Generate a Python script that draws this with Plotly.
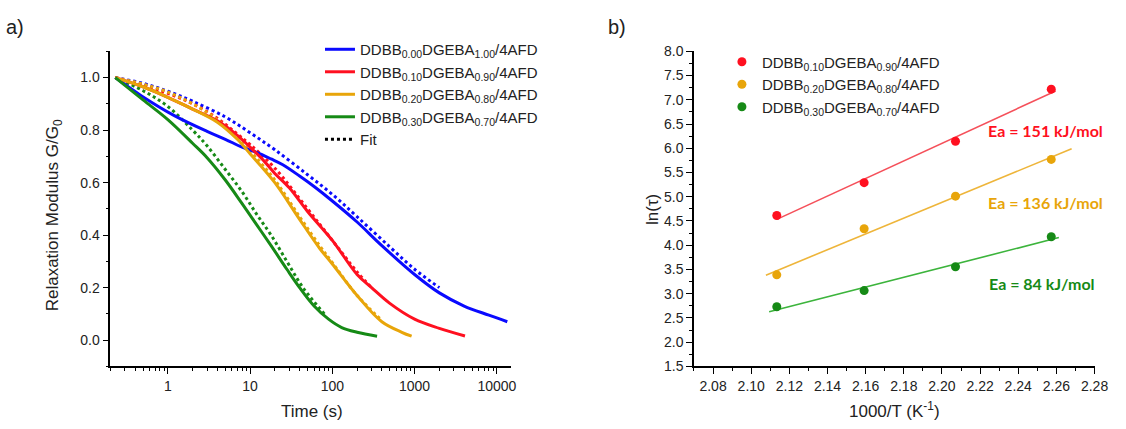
import numpy as np
import plotly.graph_objects as go

W, H = 1126, 429

# ---------------- Panel a) data: relaxation modulus ----------------
blue_t = [0.23, 0.48, 1.2, 3.0, 5, 8, 12, 18, 25, 40, 60, 100, 200, 400, 1000, 2000, 4000, 8000, 13400]
blue_g = [1.0, 0.93, 0.855, 0.795, 0.765, 0.735, 0.715, 0.69, 0.668, 0.625, 0.585, 0.53, 0.45, 0.36, 0.25, 0.18, 0.13, 0.095, 0.07]
blue_fit_t = [0.23, 0.5, 1, 2, 5, 10, 20, 50, 100, 200, 500, 1000, 2000]
blue_fit_g = [1.0, 0.978, 0.948, 0.91, 0.85, 0.79, 0.725, 0.63, 0.555, 0.47, 0.355, 0.27, 0.2]

red_t = [0.23, 0.5, 1, 2, 4, 7, 10, 15, 20, 30, 50, 100, 200, 300, 500, 1000, 2000, 4100]
red_g = [1.0, 0.965, 0.925, 0.88, 0.835, 0.78, 0.735, 0.68, 0.635, 0.58, 0.49, 0.38, 0.25, 0.2, 0.14, 0.08, 0.045, 0.016]
red_fit_t = [0.23, 0.5, 1, 2, 4, 7, 10, 20, 50, 100, 200, 300]
red_fit_g = [1.0, 0.97, 0.94, 0.9, 0.845, 0.785, 0.745, 0.655, 0.5, 0.38, 0.26, 0.2]

orange_t = [0.23, 0.5, 1, 2, 4, 7, 10, 20, 40, 70, 100, 200, 400, 700, 920]
orange_g = [1.0, 0.965, 0.925, 0.88, 0.83, 0.765, 0.71, 0.6, 0.46, 0.35, 0.29, 0.17, 0.07, 0.03, 0.015]
orange_fit_t = [0.23, 0.5, 1, 2, 4, 7, 10, 20, 40, 70, 100, 200, 400]
orange_fit_g = [1.0, 0.975, 0.945, 0.9, 0.84, 0.77, 0.72, 0.61, 0.47, 0.36, 0.295, 0.17, 0.075]

green_t = [0.23, 0.5, 1, 2, 3, 5, 8, 12, 18, 28, 40, 60, 90, 130, 200, 350]
green_g = [1.0, 0.915, 0.84, 0.75, 0.695, 0.61, 0.52, 0.44, 0.36, 0.27, 0.2, 0.13, 0.08, 0.048, 0.03, 0.015]
green_fit_t = [0.23, 0.5, 1, 2, 3, 5, 8, 12, 18, 28, 44, 80]
green_fit_g = [1.0, 0.95, 0.89, 0.8, 0.74, 0.65, 0.565, 0.48, 0.4, 0.3, 0.2, 0.1]

labels_a = ["DDBB<sub>0.00</sub>DGEBA<sub>1.00</sub>/4AFD",
            "DDBB<sub>0.10</sub>DGEBA<sub>0.90</sub>/4AFD",
            "DDBB<sub>0.20</sub>DGEBA<sub>0.80</sub>/4AFD",
            "DDBB<sub>0.30</sub>DGEBA<sub>0.70</sub>/4AFD"]
x_tickvals_a = [1, 10, 100, 1000, 10000]
x_ticktext_a = ["1", "10", "100", "1000", "10000"]

# ---------------- Panel b) data: Arrhenius ----------------
inv_T = [2.1134, 2.1592, 2.2071, 2.2573]
ln_tau_010 = [4.613, 5.29, 6.144, 7.22]
ln_tau_020 = [3.389, 4.34, 5.012, 5.77]
ln_tau_030 = [2.73, 3.064, 3.556, 4.174]
fit_span_010 = [2.1134, 2.2596]
fit_span_020 = [2.1077, 2.268]
fit_span_030 = [2.1094, 2.2613]
labels_b = labels_a[1:]
ea_labels = ["Ea = 151 kJ/mol", "Ea = 136 kJ/mol", "Ea = 84 kJ/mol"]

BLUE = "#0a0aff"
RED = "#ff1020"
ORANGE = "#e8a50a"
GREEN = "#168a16"
RED_L = "#f5505a"
ORANGE_L = "#eeb53a"
GREEN_L = "#3cb43c"
TXT = "#222222"
FONT = "Liberation Sans, Arial, sans-serif"

fig = go.Figure()

series_a = [(blue_t, blue_g, blue_fit_t, blue_fit_g, BLUE),
            (red_t, red_g, red_fit_t, red_fit_g, RED),
            (orange_t, orange_g, orange_fit_t, orange_fit_g, ORANGE),
            (green_t, green_g, green_fit_t, green_fit_g, GREEN)]

for (t, g, ft, fg, c) in series_a:
    fig.add_trace(go.Scatter(x=ft, y=fg, mode="lines", line=dict(color=c, width=3, dash="3px,3px"),
                             showlegend=False, xaxis="x", yaxis="y", line_shape="spline"))
for (t, g, ft, fg, c), lab in zip(series_a, labels_a):
    fig.add_trace(go.Scatter(x=t, y=g, mode="lines", line=dict(color=c, width=3), name=lab,
                             legend="legend", xaxis="x", yaxis="y", line_shape="spline"))
fig.add_trace(go.Scatter(x=[None], y=[None], mode="lines", line=dict(color="black", width=3, dash="3px,3px"),
                         name="Fit", legend="legend", xaxis="x", yaxis="y"))

series_b = [(ln_tau_010, fit_span_010, RED, RED_L),
            (ln_tau_020, fit_span_020, ORANGE, ORANGE_L),
            (ln_tau_030, fit_span_030, GREEN, GREEN_L)]
for (yv, span, c, cl), lab in zip(series_b, labels_b):
    k, b0 = np.polyfit(inv_T, yv, 1)
    xs = np.array(span)
    fig.add_trace(go.Scatter(x=xs, y=k * xs + b0, mode="lines", line=dict(color=cl, width=1.6),
                             showlegend=False, xaxis="x2", yaxis="y2"))
for (yv, span, c, cl), lab in zip(series_b, labels_b):
    fig.add_trace(go.Scatter(x=inv_T, y=yv, mode="markers", marker=dict(color=c, size=9),
                             name=lab, legend="legend2", xaxis="x2", yaxis="y2"))

minor_log = [k * 10.0 ** d for d in range(-1, 5) for k in range(2, 10) if 0.2 <= k * 10.0 ** d <= 14800]

axis_common = dict(showline=True, linecolor="black", linewidth=1.5, ticks="outside", ticklen=6,
                   tickwidth=1.3, tickcolor="black", showgrid=False, zeroline=False,
                   tickfont=dict(family=FONT, size=14, color=TXT))

fig.update_layout(
    width=W, height=H, margin=dict(l=0, r=0, t=0, b=0),
    paper_bgcolor="white", plot_bgcolor="white",
    font=dict(family=FONT, color=TXT),
    xaxis=dict(domain=[0.0992, 0.4594], type="log", range=[np.log10(0.2), np.log10(14800)],
               tickmode="array", tickvals=x_tickvals_a, ticktext=x_ticktext_a, anchor="y",
               minor=dict(tickmode="array", tickvals=minor_log, ticks="outside", ticklen=3,
                          tickcolor="black", tickwidth=1.2),
               **axis_common),
    yaxis=dict(domain=[0.1322, 0.8951], range=[-0.1, 1.1], tick0=0, dtick=0.2, tickformat=".1f",
               anchor="x", minor=dict(dtick=0.1, ticks="outside", ticklen=3, tickcolor="black", tickwidth=1.2),
               **axis_common),
    xaxis2=dict(domain=[0.6241, 0.9843], range=[2.07, 2.28], tick0=2.08, dtick=0.02, tickformat=".2f",
                anchor="y2", minor=dict(dtick=0.01, ticks="outside", ticklen=3, tickcolor="black", tickwidth=1.2),
                **axis_common),
    yaxis2=dict(domain=[0.1322, 0.8951], range=[1.5, 8.0], tick0=1.5, dtick=0.5, tickformat=".1f",
                anchor="x2", minor=dict(dtick=0.25, ticks="outside", ticklen=3, tickcolor="black", tickwidth=1.2),
                **axis_common),
    legend=dict(x=324 / W, y=1 - 26 / H, xanchor="left", yanchor="top", bgcolor="rgba(0,0,0,0)",
                font=dict(family=FONT, size=15, color=TXT), tracegroupgap=0, itemwidth=30),
    legend2=dict(x=731 / W, y=1 - 39 / H, xanchor="left", yanchor="top", bgcolor="rgba(0,0,0,0)",
                 font=dict(family=FONT, size=15, color=TXT), tracegroupgap=0, itemwidth=30),
    showlegend=True,
)

ann = [
    dict(text="a)", x=15 / W, y=1 - 20 / H, font=dict(size=20)),
    dict(text="b)", x=625 / W, y=1 - 20 / H, font=dict(size=20)),
    dict(text="Relaxation Modulus G/G<sub>0</sub>", x=55 / W, y=1 - 215 / H, font=dict(size=17), textangle=-90),
    dict(text="Time (s)", x=316 / W, y=1 - 419 / H, font=dict(size=17)),
    dict(text="ln(τ)", x=660 / W, y=1 - 209 / H, font=dict(size=17), textangle=-90),
    dict(text="1000/T (K<sup>-1</sup>)", x=906 / W, y=1 - 418 / H, font=dict(size=17)),
]
for a in ann:
    f = dict(family=FONT, color=TXT)
    f.update(a.pop("font"))
    fig.add_annotation(xref="paper", yref="paper", showarrow=False, xanchor="center", yanchor="middle",
                       font=f, **a)

ea_pos = [(1059 / W, 1 - 127 / H, RED), (1059 / W, 1 - 202 / H, ORANGE), (1055 / W, 1 - 286 / H, GREEN)]
for txt, (px, py, c) in zip(ea_labels, ea_pos):
    fig.add_annotation(xref="paper", yref="paper", x=px, y=py, text="<b>" + txt + "</b>", showarrow=False,
                       xanchor="center", yanchor="middle",
                       font=dict(family="Lato, sans-serif", size=16, color=c))

fig.write_html("out.html", config={"displayModeBar": False},
               post_script="document.body.style.margin='0px';")
